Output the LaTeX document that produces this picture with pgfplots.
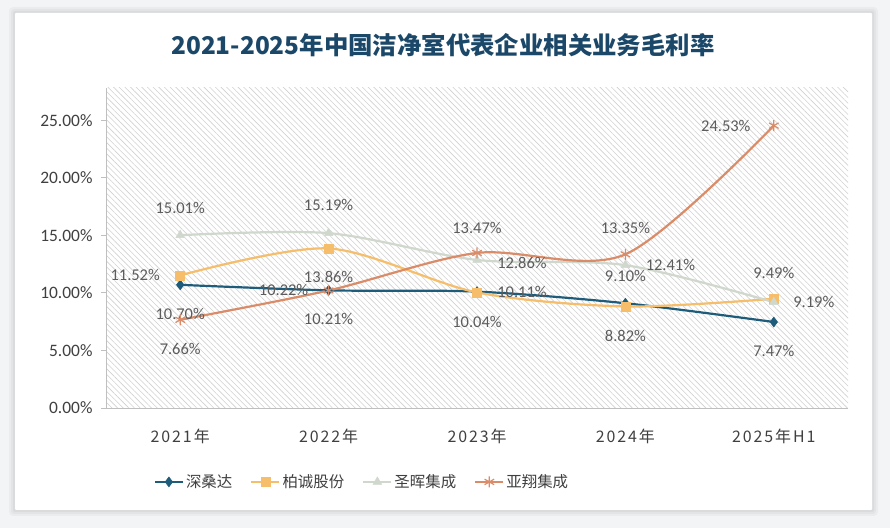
\documentclass[border=0pt]{standalone}
\usepackage{fontspec}
\setmainfont{Carlito}
\newfontfamily\cjk{Noto Sans CJK SC}
\newfontfamily\cjksp{Noto Sans CJK SC}[LetterSpace=12]
\usepackage{pgfplots}
\pgfplotsset{compat=1.18}
\usepackage{pgfplotstable}
\usetikzlibrary{patterns.meta}
\definecolor{cBlue}{RGB}{30,92,124}
\definecolor{cOrange}{RGB}{246,190,106}
\definecolor{cGray}{RGB}{208,216,206}
\definecolor{cSalmon}{RGB}{218,140,105}
\definecolor{titleC}{RGB}{27,72,104}
\definecolor{lblC}{RGB}{92,92,92}
\definecolor{tickC}{RGB}{64,64,64}
\definecolor{bgC}{RGB}{242,244,246}

\pgfplotstableread{
x y dx dy
0 10.70 0 -29
1 10.22 -45 0
2 10.11 45 0
3 9.10 0 27
4 7.47 0 -29
}\tblA
\pgfplotstableread{
x y dx dy
0 11.52 -45 0
1 13.86 0 -29
2 10.04 0 -30
3 8.82 0 -29
4 9.49 0 26
}\tblB
\pgfplotstableread{
x y dx dy
0 15.01 0 27
1 15.19 0 28
2 12.86 45 -3
3 12.41 45 0
4 9.19 40 0
}\tblC
\pgfplotstableread{
x y dx dy
0 7.66 0 -29
1 10.21 0 -28
2 13.47 0 25
3 13.35 0 26
4 24.53 -48 0
}\tblD

\pgfplotsset{lbl/.style={
  nodes near coords={\pgfmathprintnumber[fixed,fixed zerofill,precision=2]{\pgfplotspointmeta}\%},
  point meta=explicit,
  visualization depends on={\thisrow{dx}\as\ddx},
  visualization depends on={\thisrow{dy}\as\ddy},
  every node near coord/.append style={anchor=center, xshift=\ddx bp, yshift=\ddy bp, font=\fontsize{16.5}{19}\selectfont, text=lblC, inner sep=0pt},
}}

\begin{document}
\begin{tikzpicture}[x=1bp,y=1bp]
\fill[bgC] (0,0) rectangle (890,528);
\useasboundingbox (0,0) rectangle (890,528);
% card shadow
\fill[black,opacity=0.03,rounded corners=4] (9,12) rectangle (878,521);
\fill[black,opacity=0.03,rounded corners=3] (11,14) rectangle (876,519);
\fill[black,opacity=0.04,rounded corners=2] (13,16) rectangle (874,517);
\fill[white,rounded corners=1] (15,18) rectangle (872,515);
\node[font=\cjk\bfseries\fontsize{24.5}{28}\selectfont, text=titleC] at (443,483) {2021-2025年中国洁净室代表企业相关业务毛利率};
\begin{axis}[
  at={(106bp,120bp)}, anchor=south west,
  width=742bp, height=320bp, scale only axis,
  xmin=-0.5, xmax=4.5, ymin=0, ymax=27.8,
  /pgf/number format/assume math mode=true,
  axis background/.style={preaction={fill=white},pattern={Lines[angle=-45,distance=4bp,line width=0.6bp]},pattern color=black!18},
  axis x line*=bottom, axis y line*=left,
  axis line style={draw=black!25, line width=0.8bp},
  xtick={0,1,2,3,4},
  xticklabels={2021年,2022年,2023年,2024年,2025年H1},
  x tick style={draw=none},
  xticklabel style={font=\cjksp\fontsize{16}{18}\selectfont, text=tickC, yshift=-13bp},
  ytick={0,5,10,15,20,25},
  tick align=outside,
  major tick length=5bp,
  y tick style={draw=black!25, line width=0.8bp},
  yticklabel={\pgfmathprintnumber[fixed,fixed zerofill,precision=2]{\tick}\%},
  yticklabel style={font=\fontsize{17.5}{20}\selectfont, text=tickC, xshift=-5bp},
  every axis plot/.append style={line width=2.2bp, smooth},
  legend columns=4,
  legend style={at={(0.345,-0.231)}, anchor=center, draw=none, fill=none,
    font=\cjk\fontsize{15.5}{18}\selectfont, text=tickC,
    /tikz/every even column/.append style={column sep=16bp}},
  legend image code/.code={\draw[mark repeat=2,mark phase=2,#1] plot coordinates {(0bp,0bp) (14bp,0bp) (28bp,0bp)};},
]
\addplot[color=cBlue, mark=diamond*, mark size=5bp, mark options={solid, line width=0.5bp}, lbl] table[x=x,y=y,meta=y] {\tblA};
\addlegendentry{深桑达}
\addplot[color=cOrange, mark=square*, mark size=4.5bp, mark options={solid, line width=0.5bp}, lbl] table[x=x,y=y,meta=y] {\tblB};
\addlegendentry{柏诚股份}
\addplot[color=cGray, mark=triangle*, mark size=5bp, mark options={solid, line width=0.5bp}, lbl] table[x=x,y=y,meta=y] {\tblC};
\addlegendentry{圣晖集成}
\addplot[color=cSalmon, mark=asterisk, mark size=5.5bp, mark options={solid, line width=1.2bp}, lbl] table[x=x,y=y,meta=y] {\tblD};
\addlegendentry{亚翔集成}
\end{axis}
\end{tikzpicture}
\end{document}
